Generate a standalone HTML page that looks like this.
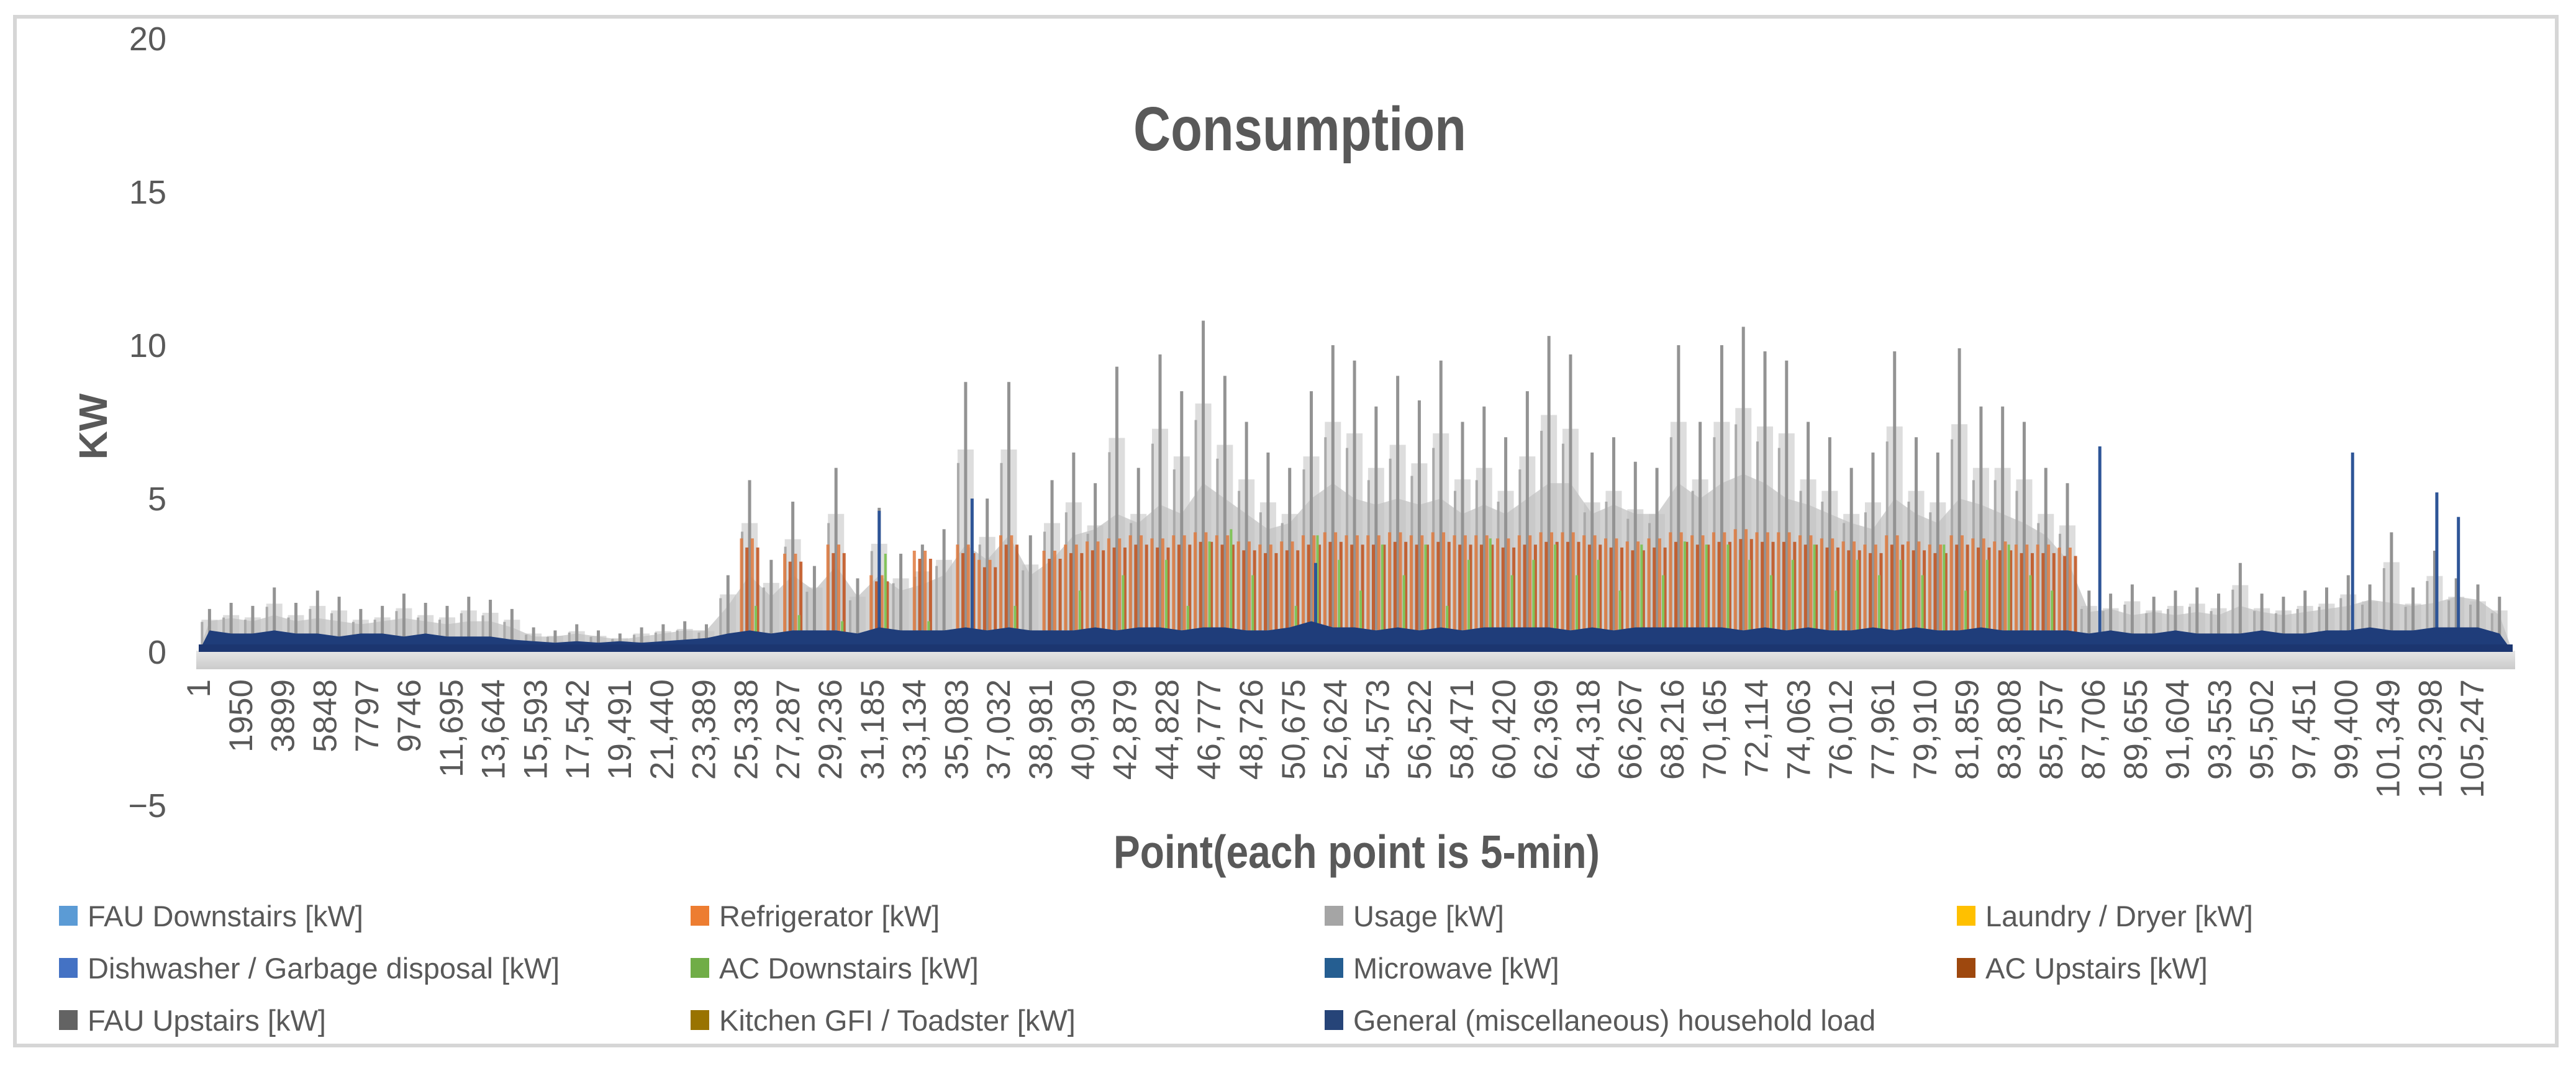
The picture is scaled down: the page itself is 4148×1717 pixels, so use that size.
<!DOCTYPE html>
<html><head><meta charset="utf-8"><title>Consumption</title>
<style>
html,body{margin:0;padding:0;background:#fff;}
svg{display:block;}
text{font-family:"Liberation Sans",sans-serif;fill:#595959;}
</style></head>
<body>
<svg id="chart" width="4148" height="1717" viewBox="0 0 4148 1717" xmlns="http://www.w3.org/2000/svg">
  <rect x="24" y="27" width="4093" height="1657" fill="#fff" stroke="#d6d6d6" stroke-width="6"/>
  <text x="1825" y="242" font-size="100" font-weight="bold" textLength="536" lengthAdjust="spacingAndGlyphs">Consumption</text>
  <text transform="translate(172,687) rotate(-90)" text-anchor="middle" font-size="64" font-weight="bold">KW</text>
  <text x="1793" y="1398" font-size="75" font-weight="bold" textLength="783" lengthAdjust="spacingAndGlyphs">Point(each point is 5-min)</text>
  <g id="yticks"></g>
  <g id="floor"></g>
  <g id="series"></g>
  <g id="xticks"></g>
  <g id="legend"></g>
</svg>
<script>
// ---- data (bins of 1000 points each) ----
const yTicks = [20, 15, 10, 5, 0, -5];
const binSize = 1000;
const usageMax = [1.4,1.6,1.5,2.1,1.6,2.0,1.8,1.4,1.5,1.9,1.6,1.5,1.8,1.7,1.4,
  0.8,0.7,0.9,0.7,0.6,0.8,0.9,1.0,0.9,
  2.5,5.6,3.0,4.9,2.8,6.0,2.4,4.7,3.2,3.5,4.0,8.8,5.0,8.8,3.8,5.6,
  6.5,5.5,9.3,6.0,9.7,8.5,10.8,9.0,7.5,6.5,6.0,8.5,10.0,9.5,8.0,9.0,8.2,
  9.5,7.5,8.0,7.0,8.5,10.3,9.7,6.5,7.0,6.2,6.0,10.0,7.5,10.0,10.6,9.8,9.5,
  7.5,7.0,6.0,6.5,9.8,7.0,6.5,9.9,8.0,8.0,7.5,6.0,5.5,
  2.0,1.9,2.2,1.8,2.0,2.1,1.9,2.9,1.9,1.8,2.0,2.1,2.5,2.2,3.9,2.1,3.3,2.4,2.2,1.8];
const usageTypical = [1.0,1.1,1.0,1.2,1.0,1.1,1.0,0.9,1.0,1.1,1.0,0.9,1.0,1.0,0.8,
  0.5,0.5,0.6,0.5,0.4,0.5,0.6,0.7,0.7,
  1.5,2.5,1.8,2.5,2.0,2.8,1.8,2.5,2.0,2.2,2.5,3.5,3.0,3.8,2.5,3.0,
  3.8,4.0,4.5,4.2,4.8,4.5,5.5,5.0,4.5,4.0,4.2,5.0,5.5,5.0,4.8,5.0,4.8,
  5.0,4.5,4.8,4.5,5.0,5.5,5.5,4.5,4.8,4.5,4.5,5.5,5.0,5.5,5.8,5.5,5.0,
  4.8,4.5,4.2,4.0,5.0,4.5,4.2,5.0,4.8,4.5,4.2,3.8,3.0,
  1.3,1.4,1.2,1.3,1.2,1.3,1.2,1.5,1.3,1.2,1.3,1.4,1.5,1.7,1.6,1.5,1.6,1.8,1.7,1.2];
const acLevel = [0,0,0,0,0,0,0,0,0,0,0,0,0,0,0,0,0,0,0,0,0,0,0,0,
  0,3.7,0,3.2,0,3.5,0,2.5,0,3.3,0,3.5,3.0,3.8,0,3.3,
  3.5,3.6,3.7,3.8,3.7,3.8,3.9,3.8,3.6,3.5,3.6,3.8,3.9,3.8,3.8,3.9,3.8,3.9,3.8,3.8,3.7,3.8,3.9,3.9,
  3.8,3.7,3.6,3.7,3.9,3.8,3.9,4.0,3.9,3.9,3.8,3.7,3.6,3.5,3.8,3.6,3.5,3.8,3.7,3.6,3.5,3.5,3.4,
  0,0,0,0,0,0,0,0,0,0,0,0,0,0,0,0,0,0,0,0];
const acDown = [0,0,0,0,0,0,0,0,0,0,0,0,0,0,0,0,0,0,0,0,0,0,0,0,
  0,1.5,0,1.2,0,1.0,0,3.2,0,1.0,0,2.5,0,1.5,0,0,
  2.0,0,2.5,0,3.0,1.5,3.6,4.0,2.5,0,1.5,3.8,3.0,2.0,3.5,2.5,3.5,1.5,3.0,3.7,2.5,3.0,3.5,2.5,
  3.0,2.0,3.5,2.5,3.6,3.5,3.5,3.0,2.5,3.0,3.5,2.0,3.0,2.5,3.0,2.5,3.5,2.0,3.0,3.5,2.5,2.0,0,
  0,0,0,0,0,0,0,0,0,0,0,0,0,0,0,0,0,0,0,0];
const baseLoad = [0.7,0.6,0.6,0.7,0.6,0.6,0.5,0.6,0.6,0.5,0.6,0.5,0.5,0.5,0.4,
  0.35,0.3,0.35,0.3,0.35,0.3,0.35,0.4,0.45,
  0.6,0.7,0.6,0.7,0.7,0.7,0.6,0.8,0.7,0.7,0.7,0.8,0.7,0.8,0.7,0.7,
  0.7,0.8,0.7,0.8,0.8,0.7,0.8,0.8,0.7,0.7,0.8,1.0,0.8,0.8,0.7,0.8,0.7,
  0.8,0.7,0.8,0.8,0.8,0.8,0.7,0.8,0.7,0.8,0.8,0.8,0.8,0.8,0.7,0.8,0.7,
  0.8,0.7,0.7,0.8,0.7,0.8,0.7,0.7,0.8,0.7,0.7,0.7,0.7,
  0.6,0.7,0.6,0.6,0.7,0.6,0.6,0.6,0.7,0.6,0.6,0.7,0.7,0.8,0.7,0.7,0.8,0.8,0.8,0.6];
const microwavePoints = [31500, 35800, 51700, 88000, 99700, 103600, 104600];
const microwaveValues = [4.6, 5.0, 2.9, 6.7, 6.5, 5.2, 4.4];
const xTickStep = 1949;
const xTickCount = 55;
const legendLabels = ["FAU Downstairs [kW]","Refrigerator [kW]","Usage [kW]","Laundry / Dryer [kW]",
  "Dishwasher / Garbage disposal [kW]","AC Downstairs [kW]","Microwave [kW]","AC Upstairs [kW]",
  "FAU Upstairs [kW]","Kitchen GFI / Toadster [kW]","General (miscellaneous) household load"];
const legendColors = ["#5b9bd5","#ed7d31","#a5a5a5","#ffc000","#4472c4","#70ad47","#255e91","#9e480e","#636363","#997300","#264478"];

// ---- axes ----
const NS = "http://www.w3.org/2000/svg";
const X0 = 320, PX_PER_POINT = 67.8 / 1949;
const Y0 = 1050, PX_PER_KW = 49.4;
function xOf(p){ return X0 + (p - 1) * PX_PER_POINT; }
function yOf(v){ return Y0 - v * PX_PER_KW; }
function mk(tag, attrs, parent){
  const e = document.createElementNS(NS, tag);
  for (const k in attrs) e.setAttribute(k, attrs[k]);
  parent.appendChild(e); return e;
}
const XEND = 4046;

// y ticks
const yg = document.getElementById('yticks');
yTicks.forEach(v => {
  const t = mk('text', {x: 268, y: yOf(v) + 19, 'text-anchor': 'end', 'font-size': 54}, yg);
  
  
  t.textContent = v < 0 ? '\u2212' + Math.abs(v) : String(v);
});

// floor
const fg = document.getElementById('floor');
const defs = mk('defs', {}, fg);
const lg = mk('linearGradient', {id: 'floorGrad', x1: 0, y1: 0, x2: 0, y2: 1}, defs);
mk('stop', {offset: '0', 'stop-color': '#e6e6e6'}, lg);
mk('stop', {offset: '1', 'stop-color': '#cbcbcb'}, lg);
const fl = mk('rect', {x: X0 - 4, y: Y0 - 2, width: XEND - X0 + 8, height: 30, fill: 'url(#floorGrad)'}, fg);



// series
const sg = document.getElementById('series');
const nb = usageMax.length;
function binX(k){ return xOf(k * binSize + binSize / 2); }
function binL(k){ return Math.max(X0, xOf(k * binSize)); }
function binR(k){ return Math.min(XEND, xOf((k + 1) * binSize)); }

// usage haze polygon
let d = 'M' + X0 + ',' + Y0;
for (let k = 0; k < nb; k++){
  d += ' L' + binX(k) + ',' + yOf(usageTypical[k]);
}
d += ' L' + XEND + ',' + Y0 + ' Z';
const haze = mk('path', {d: d, fill: '#cdcdcd', opacity: 0.9}, sg);



// usage spikes
for (let k = 0; k < nb; k++){
  const x = binX(k);
  const halo = mk('line', {x1: x, x2: x, y1: Y0, y2: yOf(usageMax[k] * 0.75), stroke: '#c2c2c2', 'stroke-width': 26, opacity: 0.55}, sg);
  
  
  const sp = mk('line', {x1: x, x2: x, y1: Y0, y2: yOf(usageMax[k]), stroke: '#939393', 'stroke-width': 5}, sg);
  
  
  const sp2 = mk('line', {x1: x - 12, x2: x - 12, y1: Y0, y2: yOf(usageMax[k] * 0.7), stroke: '#aaaaaa', 'stroke-width': 4}, sg);
  
  
}

// AC upstairs / refrigerator orange streaks
for (let k = 0; k < nb; k++){
  if (acLevel[k] <= 0) continue;
  const l = binL(k), r = binR(k), w = r - l;
  for (let j = 0; j < 4; j++){
    const xx = l + w * (j + 0.5) / 4;
    const ln = mk('line', {x1: xx, x2: xx, y1: Y0, y2: yOf(acLevel[k] * (j % 2 ? 0.92 : 1)), stroke: j % 2 ? '#c0501a' : '#e07a3e', 'stroke-width': 5, opacity: 0.85}, sg);
    
    
  }
}
// AC downstairs green streaks
for (let k = 0; k < nb; k++){
  if (acDown[k] <= 0) continue;
  const xx = binX(k) + 10;
  const ln = mk('line', {x1: xx, x2: xx, y1: Y0, y2: yOf(acDown[k]), stroke: '#82c45a', 'stroke-width': 4}, sg);
  
  
}

// microwave spikes
microwavePoints.forEach((p, i) => {
  const x = xOf(p);
  const ln = mk('line', {x1: x, x2: x, y1: Y0, y2: yOf(microwaveValues[i]), stroke: '#2e5597', 'stroke-width': 5}, sg);
  
  
});

// base load navy
let bd = 'M' + X0 + ',' + Y0;
for (let k = 0; k < nb; k++){
  bd += ' L' + binX(k) + ',' + yOf(baseLoad[k]);
}
bd += ' L' + XEND + ',' + Y0 + ' Z';
const base = mk('path', {d: bd, fill: '#1f3d7a'}, sg);


const baseBand = mk('rect', {x: X0, y: Y0 - 12, width: XEND - X0, height: 12, fill: '#1c3670'}, sg);



// x ticks
const xg = document.getElementById('xticks');
function fmt(n){ return n >= 10000 ? n.toLocaleString('en-US') : String(n); }
for (let i = 0; i < xTickCount; i++){
  const p = 1 + i * xTickStep;
  const x = xOf(p);
  const t = mk('text', {transform: 'translate(' + (x + 18) + ',1094) rotate(-90)', 'text-anchor': 'end', 'font-size': 53}, xg);
  
  
  t.textContent = fmt(p);
}

// legend
const lgd = document.getElementById('legend');
const colX = [95, 1112, 2133, 3151];
const rowY = [1475, 1559, 1643];
legendLabels.forEach((lab, i) => {
  const c = i % 4, r = Math.floor(i / 4);
  const g = mk('g', {}, lgd);
  
  
  mk('rect', {x: colX[c], y: rowY[r] - 16, width: 30, height: 32, fill: legendColors[i]}, g);
  const t = mk('text', {x: colX[c] + 46, y: rowY[r] + 17, 'font-size': 47}, g);
  t.textContent = lab;
});
</script>
</body></html>
